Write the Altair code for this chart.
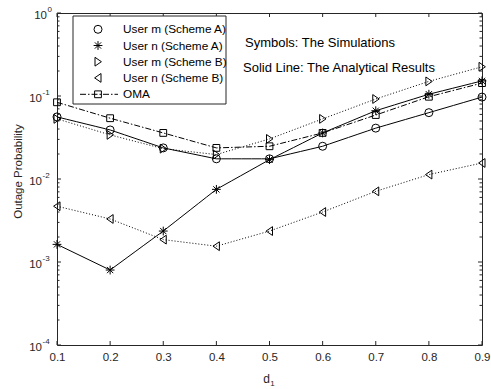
import altair as alt
import pandas as pd

# ---------------- data ----------------
d1 = [0.1, 0.2, 0.3, 0.4, 0.5, 0.6, 0.7, 0.8, 0.9]
user_m_A = [0.056, 0.039, 0.0237, 0.0175, 0.0175, 0.0248, 0.041, 0.063, 0.097]
user_n_A = [0.00163, 0.0008, 0.00236, 0.0075, 0.0171, 0.0359, 0.0665, 0.105, 0.152]
user_m_B = [0.053, 0.034, 0.0232, 0.0197, 0.0304, 0.053, 0.092, 0.15, 0.225]
user_n_B = [0.0047, 0.0033, 0.00186, 0.00155, 0.00236, 0.004, 0.0071, 0.0113, 0.0156]
oma = [0.084, 0.054, 0.0359, 0.0237, 0.0248, 0.0359, 0.059, 0.098, 0.143]

names = ["User m (Scheme A)", "User n (Scheme A)", "User m (Scheme B)",
         "User n (Scheme B)", "OMA"]
values = [user_m_A, user_n_A, user_m_B, user_n_B, oma]

x_ticks = [0.1, 0.2, 0.3, 0.4, 0.5, 0.6, 0.7, 0.8, 0.9]
y_major = [1e-4, 1e-3, 1e-2, 1e-1, 1e0]
y_exps = ["-4", "-3", "-2", "-1", "0"]
y_minor = [k * 10.0 ** e for e in [-4, -3, -2, -1] for k in range(2, 10)]

# ---------------- styles ----------------
W, H = 425, 332
AX = "#262626"
FONT = "Liberation Sans"

circle = "circle"
star = "M0,-1.1V1.1M-1.1,0H1.1M-0.78,-0.78L0.78,0.78M-0.78,0.78L0.78,-0.78"
tri_r = "M-0.75,-1.1L0.85,0L-0.75,1.1Z"
tri_l = "M0.75,-1.1L-0.85,0L0.75,1.1Z"
square = "M-0.85,-0.85H0.85V0.85H-0.85Z"
shapes = [circle, star, tri_r, tri_l, square]
dashes = [[10, 0], [10, 0], [1, 2], [1, 2], [6, 2, 1.5, 2]]

rows = []
for n, vals in zip(names, values):
    for x, v in zip(d1, vals):
        rows.append({"d1": x, "p": v, "series": n})
df = pd.DataFrame(rows)

xs = alt.Scale(domain=[0.1, 0.9], nice=False, zero=False)
ys = alt.Scale(type="log", domain=[1e-4, 1], nice=False)

YT = "Outage Probability"

def X(field="d1:Q", **kw):
    return alt.X(field, scale=xs, title=None, **kw)

def Y(field="p:Q", **kw):
    return alt.Y(field, scale=ys, title=YT, **kw)

x_axis = alt.Axis(values=x_ticks, format=".1f", ticks=False, domain=False,
                  grid=False, labelPadding=6, labelFontSize=11.5, labelFlush=False,
                  labelColor=AX, labelFont=FONT)
y_axis = alt.Axis(labels=False, ticks=False, domain=False, grid=False,
                  titleFontSize=11.5, titleFontWeight="normal", titleColor=AX,
                  titleFont=FONT, titleX=-34, titleY=158)

lines = alt.Chart(df).mark_line(color="black", strokeWidth=1).encode(
    x=X(axis=x_axis),
    y=Y(axis=y_axis),
    detail="series:N",
    strokeDash=alt.StrokeDash("series:N", scale=alt.Scale(domain=names, range=dashes),
                              legend=None),
)

points = alt.Chart(df).mark_point(filled=False, color="black", strokeWidth=1,
                                  size=64, opacity=1).encode(
    x=X(), y=Y(),
    shape=alt.Shape("series:N", scale=alt.Scale(domain=names, range=shapes), legend=None),
)

# ---------------- inward ticks ----------------
xt = pd.DataFrame({"d1": x_ticks})
ymaj = pd.DataFrame({"p": y_major, "e": y_exps})
ymin = pd.DataFrame({"p": y_minor})

tick_layers = [
    alt.Chart(xt).mark_rule(color=AX, strokeWidth=1).encode(
        x=X(), y=alt.value(H), y2=alt.value(H - 4)),
    alt.Chart(xt).mark_rule(color=AX, strokeWidth=1).encode(
        x=X(), y=alt.value(0), y2=alt.value(4)),
    alt.Chart(ymaj).mark_rule(color=AX, strokeWidth=1).encode(
        y=Y(), x=alt.value(0), x2=alt.value(4)),
    alt.Chart(ymaj).mark_rule(color=AX, strokeWidth=1).encode(
        y=Y(), x=alt.value(W - 4), x2=alt.value(W)),
    alt.Chart(ymin).mark_rule(color=AX, strokeWidth=1).encode(
        y=Y(), x=alt.value(0), x2=alt.value(2.5)),
    alt.Chart(ymin).mark_rule(color=AX, strokeWidth=1).encode(
        y=Y(), x=alt.value(W - 2.5), x2=alt.value(W)),
]

# ---------------- y tick labels 10^e ----------------
lab_layers = []
for cond, xr in [("datum.e == '0'", -10), ("datum.e != '0'", -15)]:
    base = alt.Chart(ymaj).transform_filter(cond)
    lab_layers.append(base.mark_text(align="right", baseline="middle", dy=3,
                                     fontSize=11.5, font=FONT, color=AX).encode(
        y=Y(), x=alt.value(xr), text=alt.value("10")))
    lab_layers.append(base.mark_text(align="left", baseline="middle", dy=-3,
                                     fontSize=8, font=FONT, color=AX).encode(
        y=Y(), x=alt.value(xr + 0.5), text="e:N"))

# ---------------- annotations ----------------
def txt(s, x, y, size, align="left", color="black"):
    return alt.Chart(pd.DataFrame({"t": [s]})).mark_text(
        align=align, baseline="middle", fontSize=size, font=FONT, color=color
    ).encode(x=alt.value(x), y=alt.value(y), text="t:N")

ann = [
    txt("Symbols: The Simulations", 188, 30, 13),
    txt("Solid Line: The Analytical Results", 186, 55, 13),
    txt("d", 209.5, 366, 12, align="center", color=AX),
    txt("1", 215.5, 371, 8, align="center", color=AX),
]

# ---------------- legend (box) ----------------
leg_rows_y = [16.3, 32.5, 48.7, 64.9, 81.3]
legend = [
    alt.Chart(pd.DataFrame({"a": [0]})).mark_rect(fill="white", stroke=AX, strokeWidth=1).encode(
        x=alt.value(16), x2=alt.value(169), y=alt.value(3), y2=alt.value(91)),
    alt.Chart(pd.DataFrame({"a": [0]})).mark_rule(color="black", strokeWidth=1,
                                                  strokeDash=dashes[4]).encode(
        x=alt.value(23), x2=alt.value(61), y=alt.value(leg_rows_y[4])),
]
for n, shp, yy in zip(names, shapes, leg_rows_y):
    d = pd.DataFrame({"label": [n]})
    legend.append(alt.Chart(d).mark_point(filled=False, color="black", strokeWidth=1,
                                          size=64, opacity=1, shape=shp).encode(
        x=alt.value(41), y=alt.value(yy)))
    legend.append(alt.Chart(d).mark_text(align="left", baseline="middle", fontSize=11.8,
                                         font=FONT, color="black").encode(
        x=alt.value(66), y=alt.value(yy), text="label:N"))

chart = alt.layer(lines, points, *tick_layers, *lab_layers, *ann, *legend).properties(
    width=W, height=H,
    padding={"left": 57, "top": 13, "right": 9, "bottom": 44},
    autosize=alt.AutoSizeParams(type="none"),
    background="white",
).configure_view(stroke=AX, strokeWidth=1)

chart.save("out.html", embed_options={"renderer": "svg", "actions": False})
